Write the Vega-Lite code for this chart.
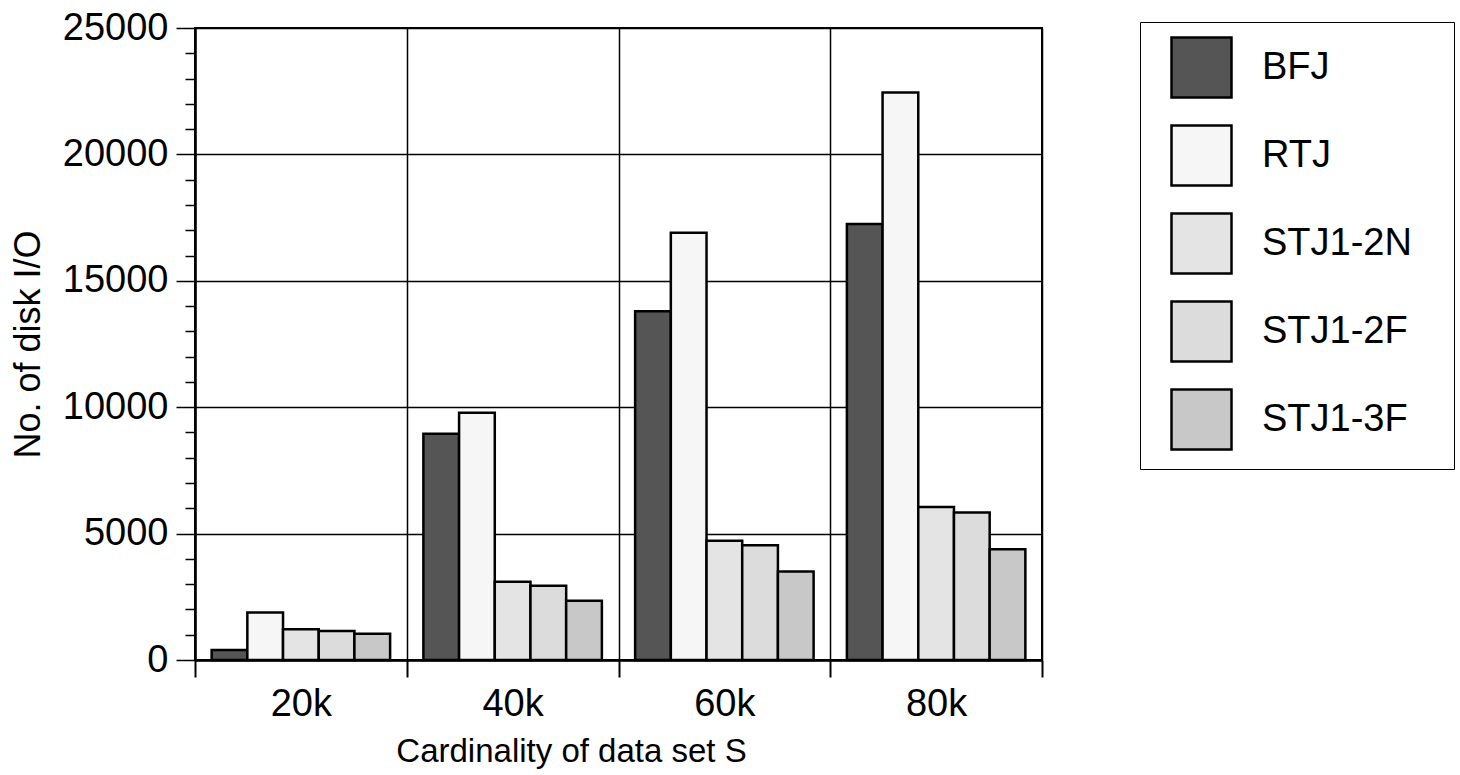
{
  "$schema": "https://vega.github.io/schema/vega-lite/v6.json",
  "width": 847,
  "height": 632,
  "autosize": {"type": "none"},
  "padding": {"left": 195, "top": 28, "right": 418, "bottom": 115},
  "background": "white",
  "config": {
    "font": "Liberation Sans",
    "view": {"stroke": "black", "strokeWidth": 2}
  },
  "data": {
    "values": [
      {"card": "20k", "method": "BFJ", "io": 400},
      {"card": "20k", "method": "RTJ", "io": 1880},
      {"card": "20k", "method": "STJ1-2N", "io": 1220},
      {"card": "20k", "method": "STJ1-2F", "io": 1150},
      {"card": "20k", "method": "STJ1-3F", "io": 1040},
      {"card": "40k", "method": "BFJ", "io": 8950},
      {"card": "40k", "method": "RTJ", "io": 9780},
      {"card": "40k", "method": "STJ1-2N", "io": 3100},
      {"card": "40k", "method": "STJ1-2F", "io": 2940},
      {"card": "40k", "method": "STJ1-3F", "io": 2340},
      {"card": "60k", "method": "BFJ", "io": 13800},
      {"card": "60k", "method": "RTJ", "io": 16900},
      {"card": "60k", "method": "STJ1-2N", "io": 4720},
      {"card": "60k", "method": "STJ1-2F", "io": 4540},
      {"card": "60k", "method": "STJ1-3F", "io": 3500},
      {"card": "80k", "method": "BFJ", "io": 17250},
      {"card": "80k", "method": "RTJ", "io": 22450},
      {"card": "80k", "method": "STJ1-2N", "io": 6050},
      {"card": "80k", "method": "STJ1-2F", "io": 5830},
      {"card": "80k", "method": "STJ1-3F", "io": 4380}
    ]
  },
  "mark": {"type": "bar", "stroke": "black", "strokeWidth": 2.5},
  "encoding": {
    "x": {
      "field": "card",
      "type": "nominal",
      "sort": ["20k", "40k", "60k", "80k"],
      "scale": {"paddingInner": 0, "paddingOuter": 0},
      "axis": {
        "title": "Cardinality of data set S",
        "labelAngle": 0,
        "tickBand": "extent",
        "grid": true,
        "gridColor": "black",
        "gridWidth": 1.5,
        "gridOpacity": 1,
        "domainColor": "black",
        "domainWidth": 2.5,
        "tickColor": "black",
        "tickWidth": 2,
        "tickSize": 17,
        "labelFontSize": 38,
        "labelColor": "black",
        "labelPadding": 8,
        "titleFontSize": 33,
        "titleFontWeight": "normal",
        "titleColor": "black",
        "titleX": 376,
        "titleY": 101,
        "titleAlign": "center",
        "titleBaseline": "alphabetic"
      }
    },
    "xOffset": {
      "field": "method",
      "type": "nominal",
      "sort": ["BFJ", "RTJ", "STJ1-2N", "STJ1-2F", "STJ1-3F"],
      "scale": {"paddingInner": 0, "paddingOuter": 0.466}
    },
    "y": {
      "field": "io",
      "type": "quantitative",
      "scale": {"domain": [0, 25000], "nice": false},
      "axis": {
        "title": "No. of disk I/O",
        "values": [0, 1000, 2000, 3000, 4000, 5000, 6000, 7000, 8000, 9000, 10000, 11000, 12000, 13000, 14000, 15000, 16000, 17000, 18000, 19000, 20000, 21000, 22000, 23000, 24000, 25000],
        "format": "d",
        "labelExpr": "datum.value % 5000 === 0 ? datum.label : ''",
        "labelOverlap": false,
        "tickSize": {"condition": {"test": "datum.value % 5000 === 0", "value": 19}, "value": 10},
        "gridOpacity": {"condition": {"test": "datum.value % 5000 === 0", "value": 1}, "value": 0},
        "gridColor": "black",
        "gridWidth": 1.5,
        "domainColor": "black",
        "domainWidth": 2.5,
        "tickColor": "black",
        "tickWidth": 1.5,
        "labelFontSize": 38,
        "labelColor": "black",
        "labelPadding": 8,
        "titleFontSize": 36,
        "titleFontWeight": "normal",
        "titleColor": "black",
        "titlePadding": 15
      }
    },
    "fill": {
      "field": "method",
      "type": "nominal",
      "scale": {
        "domain": ["BFJ", "RTJ", "STJ1-2N", "STJ1-2F", "STJ1-3F"],
        "range": ["#555555", "#f6f6f6", "#e4e4e4", "#dcdcdc", "#c8c8c8"]
      },
      "legend": {
        "orient": "none",
        "legendX": 945,
        "legendY": -6,
        "title": null,
        "symbolType": "square",
        "symbolSize": 3600,
        "symbolStrokeColor": "black",
        "symbolStrokeWidth": 2.5,
        "symbolOpacity": 1,
        "labelFontSize": 38,
        "labelColor": "black",
        "labelOffset": 29,
        "labelLimit": 400,
        "labelExpr": "datum.label + '\u2800'",
        "rowPadding": 17,
        "padding": 14,
        "symbolOffset": 16,
        "strokeColor": "black",
        "fillColor": "white"
      }
    }
  }
}
